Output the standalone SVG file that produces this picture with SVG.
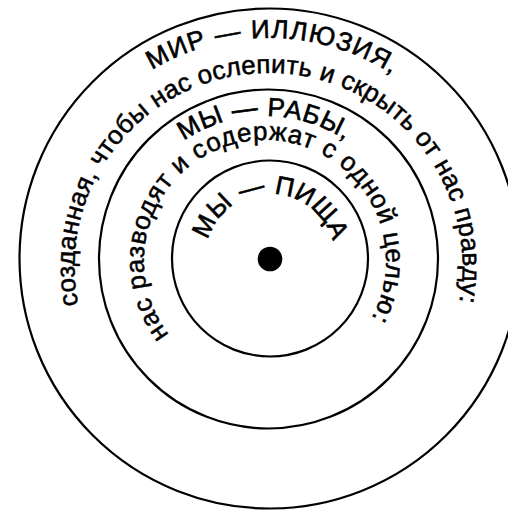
<svg xmlns="http://www.w3.org/2000/svg" width="508" height="512" viewBox="0 0 508 512">
<style>
.ring{fill:none;stroke:#000;stroke-width:2.2}
.cap{font-family:"Liberation Sans",Arial,sans-serif;font-size:26px;fill:#000;stroke:#000;stroke-width:0.6}
.low{font-family:"Liberation Sans",Arial,sans-serif;font-size:26px;fill:#000;stroke:#000;stroke-width:0.5}
</style>
<defs>
<path id="p1" d="M151.9,69.9 A229,229 0 0 1 391.9,74.1"/>
<path id="p2" d="M78.3,305 A194,194 0 1 1 459.4,301.7"/>
<path id="p3" d="M183.7,140.9 A145,145 0 0 1 345,140.1"/>
<path id="p4" d="M169,334.7 A121,121 0 1 1 371.8,317.8"/>
<path id="p5" d="M207.8,240 A65,65 0 0 1 332.5,241.1"/>
</defs>
<rect width="508" height="512" fill="#fff"/>
<g id="outer">
<circle class="ring" cx="269.5" cy="258.5" r="250"/>
<text class="cap"><textPath href="#p1" textLength="252.6" lengthAdjust="spacing">МИР — ИЛЛЮЗИЯ,</textPath></text>
<text class="low"><textPath href="#p2" textLength="682.6" lengthAdjust="spacing">созданная, чтобы нас ослепить и скрыть от нас правду:</textPath></text>
</g>
<g id="middle">
<circle class="ring" cx="268.5" cy="259" r="169.5"/>
<text class="cap"><textPath href="#p3" textLength="171.1" lengthAdjust="spacing">МЫ — РАБЫ,</textPath></text>
<text class="low"><textPath href="#p4" textLength="518.5" lengthAdjust="spacing">нас разводят и содержат с одной целью:</textPath></text>
</g>
<g id="inner">
<circle class="ring" cx="270" cy="258.5" r="98"/>
<text class="cap"><textPath href="#p5" textLength="166.8" lengthAdjust="spacing">МЫ — ПИЩА</textPath></text>
</g>
<g id="center">
<circle cx="270" cy="259" r="12.3" fill="#000"/>
</g>
<g id="connectors"/>
</svg>
